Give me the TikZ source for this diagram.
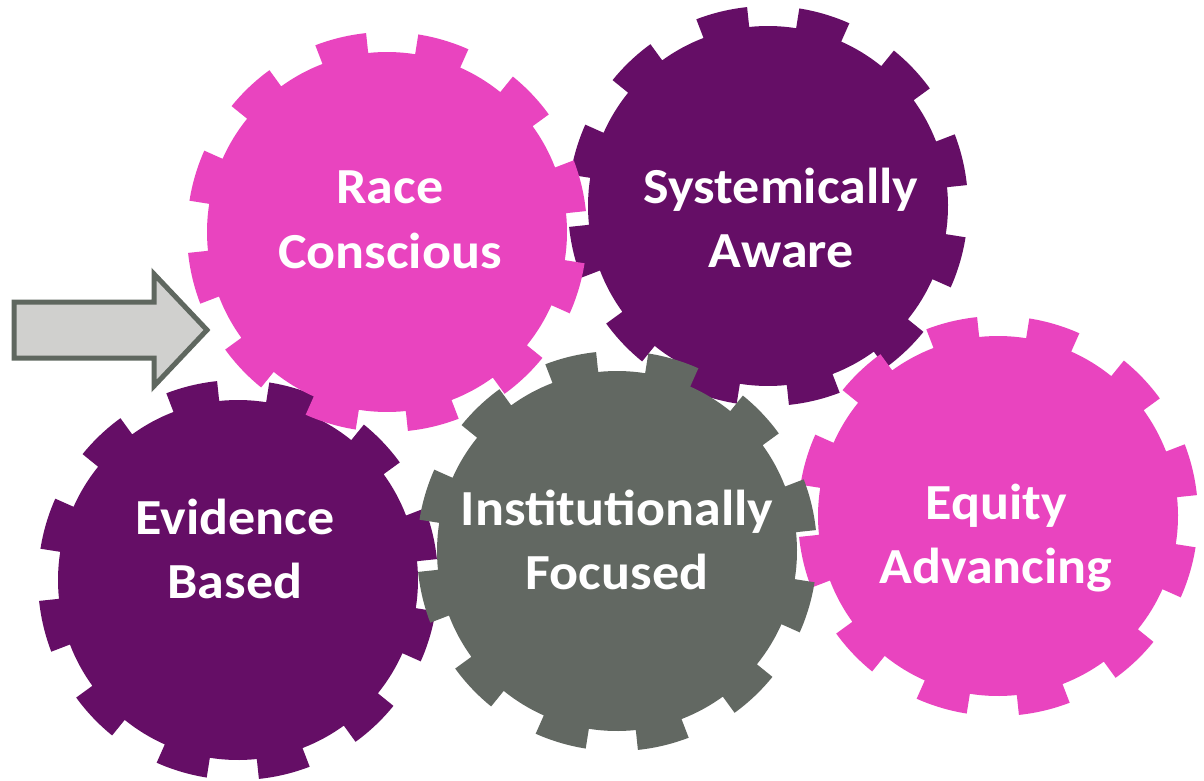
\documentclass[tikz,border=0pt]{standalone}
\usepackage{fontspec}
\setmainfont{Carlito}[FakeStretch=1.07]
\definecolor{gpink}{HTML}{E944BF}
\definecolor{gpurple}{HTML}{650E66}
\definecolor{ggrey}{HTML}{626862}
\definecolor{afill}{HTML}{D0D0CE}
\definecolor{aline}{HTML}{5F675F}
\newcommand\gearoutline{(-6:180) \foreach \k in {0,...,11}{ arc[start angle={\k*30-6}, end angle={\k*30+9}, radius=180] -- ({\k*30+9}:200) arc[start angle={\k*30+9}, end angle={\k*30+24}, radius=200] -- ({\k*30+24}:180) } -- cycle}
\tikzset{
  gtext/.style={text=white, font=\fontsize{50.5}{60}\selectfont\bfseries, anchor=base, inner sep=0pt},
  arrowshape/.style={fill=afill, draw=aline, line width=5pt, line join=miter}
}
\begin{document}
\begin{tikzpicture}[x=1pt,y=-1pt]
\fill[white] (0,0) rectangle (1204,781);
\useasboundingbox (0,0) rectangle (1204,781);
% arrow
\coordinate (a1) at (14,302);
\coordinate (a2) at (154,302);
\coordinate (a3) at (154,274);
\coordinate (a4) at (207,330);
\coordinate (a5) at (154,386);
\coordinate (a6) at (154,358);
\coordinate (a7) at (14,358);
\draw[arrowshape] (a1) -- (a2) -- (a3) -- (a4) -- (a5) -- (a6) -- (a7) -- cycle;
% gears, bottom to top
\begin{scope}[shift={(768,206)}]
  \fill[gpurple] \gearoutline;
\end{scope}
\begin{scope}[shift={(238,580)}]
  \fill[gpurple] \gearoutline;
\end{scope}
\begin{scope}[shift={(387,232)}]
  \fill[gpink] \gearoutline;
\end{scope}
\begin{scope}[shift={(998,516)}]
  \fill[gpink] \gearoutline;
\end{scope}
\begin{scope}[shift={(617,551)}]
  \fill[ggrey] \gearoutline;
\end{scope}
% labels
\node[gtext] (rc1) at (390,203) {Race};
\node[gtext] (rc2) at (390,268) {Conscious};
\node[gtext] (sa1) at (781,203) {Systemically};
\node[gtext] (sa2) at (781,267) {Aware};
\node[gtext] (eb1) at (235,534) {Evidence};
\node[gtext] (eb2) at (235,598) {Based};
\node[gtext] (if1) at (617,525) {Institutionally};
\node[gtext] (if2) at (617,589) {Focused};
\node[gtext] (ea1) at (996,519) {Equity};
\node[gtext] (ea2) at (996,583) {Advancing};
\end{tikzpicture}
\end{document}
